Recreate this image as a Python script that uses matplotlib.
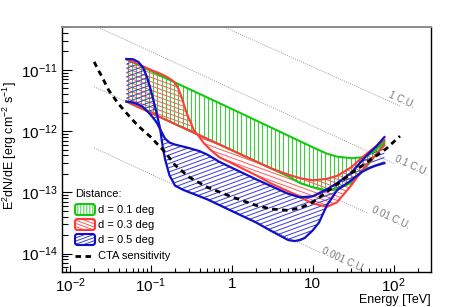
import numpy as np
import matplotlib
matplotlib.use('Agg')
import matplotlib.pyplot as plt
from matplotlib.collections import LineCollection
from matplotlib.patches import FancyBboxPatch
from matplotlib.transforms import Affine2D
from matplotlib.ticker import FixedLocator, LogLocator, NullFormatter

plt.rcParams['font.family'] = ['Liberation Sans', 'DejaVu Sans']
plt.rcParams['mathtext.fontset'] = 'custom'
plt.rcParams['mathtext.rm'] = 'Liberation Sans'
plt.rcParams['mathtext.it'] = 'Liberation Sans:italic'
plt.rcParams['mathtext.bf'] = 'Liberation Sans:bold'

# ---- data (E in TeV, E^2 dN/dE in erg cm^-2 s^-1) ----
green_hi_E = [0.05, 0.1, 0.2, 0.5, 1, 2, 5, 10, 15, 20, 30, 40, 50, 60, 77]
green_hi_F = [1.5e-11, 9.6e-12, 6.2e-12, 3.53e-12, 2.3e-12, 1.49e-12, 8.4e-13, 5.45e-13,
              4.28e-13, 3.82e-13, 3.61e-13, 3.72e-13, 4.12e-13, 4.89e-13, 6.86e-13]
green_lo_E = [0.05, 0.1, 0.2, 0.5, 1, 2, 3, 5, 7, 10, 15, 20, 30, 40, 50, 60, 77]
green_lo_F = [3.03e-12, 1.99e-12, 1.30e-12, 7.45e-13, 4.88e-13, 3.19e-13, 2.49e-13, 1.82e-13,
              1.41e-13, 1.21e-13, 1.08e-13, 1.12e-13, 1.43e-13, 2.09e-13, 2.99e-13, 4.04e-13, 6.36e-13]

red_a_E = [0.05, 0.08, 0.1, 0.12, 0.15, 0.18, 0.2, 0.22, 0.24, 0.26, 0.28, 0.31, 0.34, 0.39,
           0.45, 0.55, 0.7, 1, 2, 3, 5, 7, 10, 15, 20, 30, 40, 50, 60, 77]
red_a_F = [1.5e-11, 1.14e-11, 1.0e-11, 9.1e-12, 7.97e-12, 6.86e-12, 6.12e-12, 4.88e-12, 3.61e-12,
           2.57e-12, 1.9e-12, 1.41e-12, 1.04e-12, 8.3e-13, 6.4e-13, 4.9e-13, 3.75e-13, 2.99e-13,
           1.90e-13, 1.41e-13, 1.04e-13, 8.28e-14, 6.6e-14, 5.79e-14, 6.86e-14, 1.30e-13,
           2.21e-13, 3.1e-13, 4.04e-13, 5.89e-13]
red_b_E = [0.05, 0.1, 0.2, 0.5, 1, 2, 3, 5, 7, 10, 15, 20, 30, 40, 50, 60, 77]
red_b_F = [3.03e-12, 1.99e-12, 1.30e-12, 7.45e-13, 4.88e-13, 3.19e-13, 2.49e-13, 1.94e-13,
           1.70e-13, 1.57e-13, 1.66e-13, 1.86e-13, 2.57e-13, 3.61e-13, 4.61e-13, 5.57e-13, 7.12e-13]

blue_a_E = [0.05, 0.06, 0.07, 0.08, 0.09, 0.1, 0.11, 0.12, 0.13, 0.14, 0.15, 0.17, 0.2, 0.25,
            0.3, 0.5, 1, 2, 3, 5, 6, 7, 8, 10, 12, 15, 20, 30, 40, 50, 60, 77]
blue_a_F = [1.5e-11, 1.49e-11, 1.35e-11, 1.10e-11, 7.54e-12, 4.70e-12, 2.88e-12, 1.80e-12,
            1.12e-12, 5.68e-13, 3.48e-13, 1.90e-13, 1.28e-13, 1.10e-13, 1.0e-13, 7.68e-14,
            4.97e-14, 3.22e-14, 2.38e-14, 1.66e-14, 1.60e-14, 1.66e-14, 1.80e-14, 2.38e-14,
            3.22e-14, 6.12e-14, 1.08e-13, 1.57e-13, 2.13e-13, 2.47e-13, 2.72e-13, 2.99e-13]
blue_b_E = [0.05, 0.06, 0.07, 0.08, 0.09, 0.1, 0.11, 0.12, 0.13, 0.15, 0.17, 0.2, 0.3, 0.4,
            0.5, 0.7, 1, 2, 3, 5, 7, 10, 15, 20, 30, 40, 50, 60, 77]
blue_b_F = [3.03e-12, 2.93e-12, 2.72e-12, 2.47e-12, 2.13e-12, 1.83e-12, 1.57e-12, 1.33e-12,
            1.08e-12, 7.54e-13, 6.48e-13, 6.01e-13, 5.26e-13, 4.7e-13, 4.12e-13, 3.16e-13,
            2.52e-13, 1.63e-13, 1.28e-13, 9.45e-14, 8.28e-14, 8.6e-14, 1.12e-13, 1.41e-13,
            2.08e-13, 3.22e-13, 4.36e-13, 5.47e-13, 7.97e-13]

cta_E = [0.02, 0.022, 0.025, 0.03, 0.04, 0.05, 0.07, 0.1, 0.15, 0.2, 0.3, 0.5, 1, 2, 3, 5, 7,
         10, 15, 20, 30, 50, 80, 120]
cta_F = [1.35e-11, 1.04e-11, 7.68e-12, 4.70e-12, 2.77e-12, 1.97e-12, 1.21e-12, 7.97e-13,
         4.53e-13, 2.77e-13, 1.76e-13, 1.21e-13, 8.44e-14, 6.12e-14, 5.37e-14, 5.07e-14,
         5.57e-14, 6.86e-14, 1.02e-13, 1.35e-13, 2.05e-13, 3.28e-13, 5.07e-13, 8.28e-13]

# Crab-unit reference lines: (E start, E end), (F start, F end)
cu_names = ['1 C.U.', '0.1 C.U.', '0.01 C.U.', '0.001 C.U.']
cu_E = [(0.5, 120), (0.02, 100), (0.02, 48.4), (0.02, 12.4)]
cu_F = [(6.6e-11, 2.57e-12), (5.3e-11, 2.98e-13), (5.3e-12, 4.53e-14), (5.3e-13, 1.04e-14)]
cu_text_E = [85.6, 101, 52.7, 12.7]
cu_text_F = [3.61e-12, 3.22e-13, 4.7e-14, 1.04e-14]

x_ticks = [0.01, 0.1, 1, 10, 100]
x_tick_labels = ['$10^{-2}$', '$10^{-1}$', '1', '10', '$10^{2}$']
y_ticks = [1e-14, 1e-13, 1e-12, 1e-11]
y_tick_labels = ['$10^{-14}$', '$10^{-13}$', '$10^{-12}$', '$10^{-11}$']

GREEN = '#14c814'
RED = '#ff3c3c'
BLUE = '#1010c8'

W, H = 463, 307
fig = plt.figure(figsize=(W / 100, H / 100), dpi=100)
ax = fig.add_axes([62 / W, 1 - 272 / H, 369 / W, 245 / H])
# image pixel coordinates, y pointing down (used for hatching and legend)
pix = Affine2D().scale(1 / W, -1 / H).translate(0, 1) + fig.transFigure


def hatch(clip, angle, spacing, color, lw, z):
  # parallel lines in pixel space clipped to a patch
  a = np.deg2rad(angle)
  u = np.array([np.cos(a), -np.sin(a)])
  n = np.array([np.sin(a), np.cos(a)])
  c = np.array([W / 2, H / 2])
  segs = []
  for d in np.arange(-700, 700, spacing):
    p = c + d * n
    segs.append([p - 900 * u, p + 900 * u])
  lc = LineCollection(segs, colors=color, linewidths=lw, transform=pix, zorder=z)
  ax.add_collection(lc, autolim=False)
  lc.set_clip_path(clip)


def band(e1, f1, e2, f2):
  xs = list(e1) + list(e2)[::-1]
  ys = list(f1) + list(f2)[::-1]
  poly, = ax.fill(xs, ys, facecolor='none', edgecolor='none')
  return poly


ax.set_xscale('log')
ax.set_yscale('log')

# crab unit lines
for i in range(len(cu_names)):
  ax.plot(cu_E[i], cu_F[i], color='#9a9a9a', lw=0.7, ls=(0, (1, 1.3)), zorder=1)
  ax.text(cu_text_E[i], cu_text_F[i], cu_names[i], color='#7a7a7a', fontsize=7,
          rotation=-24.7, rotation_mode='anchor', ha='left', va='baseline')

g = band(green_hi_E, green_hi_F, green_lo_E, green_lo_F)
hatch(g, 90, 4.2, '#3ccc3c', 0.8, 2)
r = band(red_a_E, red_a_F, red_b_E, red_b_F)
hatch(r, -20, 4.0, '#ff5a5a', 0.7, 2.1)
b = band(blue_a_E, blue_a_F, blue_b_E, blue_b_F)
hatch(b, 20, 4.0, '#3a3ad8', 0.7, 2.2)

ax.plot(green_hi_E, green_hi_F, color=GREEN, lw=1.5, zorder=3)
ax.plot(green_lo_E, green_lo_F, color=GREEN, lw=1.5, zorder=3)
ax.plot(red_b_E, red_b_F, color=RED, lw=1.5, zorder=3.1)
ax.plot(red_a_E, red_a_F, color=RED, lw=1.5, zorder=3.1)
ax.plot(blue_a_E, blue_a_F, color=BLUE, lw=1.6, zorder=3.2)
ax.plot(blue_b_E, blue_b_F, color=BLUE, lw=1.6, zorder=3.2)
ax.plot(cta_E, cta_F, color='black', lw=2.0, ls=(0, (2, 1.6)), zorder=4)

ax.set_xlim(0.008, 290)
ax.set_ylim(5e-15, 5e-11)

ax.xaxis.set_major_locator(FixedLocator(x_ticks))
ax.set_xticklabels(x_tick_labels)
ax.yaxis.set_major_locator(FixedLocator(y_ticks))
ax.set_yticklabels(y_tick_labels)
ax.xaxis.set_minor_locator(LogLocator(base=10, subs=np.arange(2, 10), numticks=30))
ax.yaxis.set_minor_locator(LogLocator(base=10, subs=np.arange(2, 10), numticks=30))
ax.xaxis.set_minor_formatter(NullFormatter())
ax.yaxis.set_minor_formatter(NullFormatter())
ax.tick_params(which='both', direction='in', top=False, right=False, width=0.8, color='black')
ax.tick_params(axis='x', which='major', length=5, pad=3.5, labelsize=11)
ax.tick_params(axis='x', which='minor', length=3)
ax.tick_params(axis='y', which='major', length=7, pad=3, labelsize=11)
ax.tick_params(axis='y', which='minor', length=4)
for s in ['left', 'bottom', 'right']:
  ax.spines[s].set_linewidth(1.0)
  ax.spines[s].set_color('black')
ax.spines['top'].set_color('#8a8a8a')
ax.spines['top'].set_linewidth(1.4)

fig.text(10 / W, 1 - 146 / H, 'E$^{2}$dN/dE [erg cm$^{-2}$ s$^{-1}$]', rotation=90,
         ha='center', va='center', fontsize=9)
fig.text(431 / W, 1 - 300 / H, 'Energy [TeV]', ha='right', va='center', fontsize=9)

# legend drawn by hand so the hatch angles match the plot
ax.text(75, 194, 'Distance:', transform=pix, fontsize=8, ha='left', va='center', zorder=6)
leg_rows = [(204, GREEN, 90, '#3ccc3c', 'd = 0.1 deg'),
            (219, RED, -20, '#ff5a5a', 'd = 0.3 deg'),
            (234, BLUE, 20, '#3a3ad8', 'd = 0.5 deg')]
for y0, ec, ang, hc, lab in leg_rows:
  box = FancyBboxPatch((75, y0), 20, 11, boxstyle='round,pad=0,rounding_size=2.5',
                       transform=pix, facecolor='none', edgecolor=ec, lw=1.5, zorder=6)
  ax.add_artist(box)
  hatch(box, ang, 3.0, hc, 0.7, 5.5)
  ax.text(98, y0 + 6, lab, transform=pix, fontsize=8, ha='left', va='center', zorder=6)
ax.plot([75, 95], [256, 256], transform=pix, color='black', lw=2.0, ls=(0, (2, 1.6)),
        zorder=6, clip_on=False)
ax.text(98, 256, 'CTA sensitivity', transform=pix, fontsize=8, ha='left', va='center', zorder=6)

fig.savefig('out.png', dpi=100)
